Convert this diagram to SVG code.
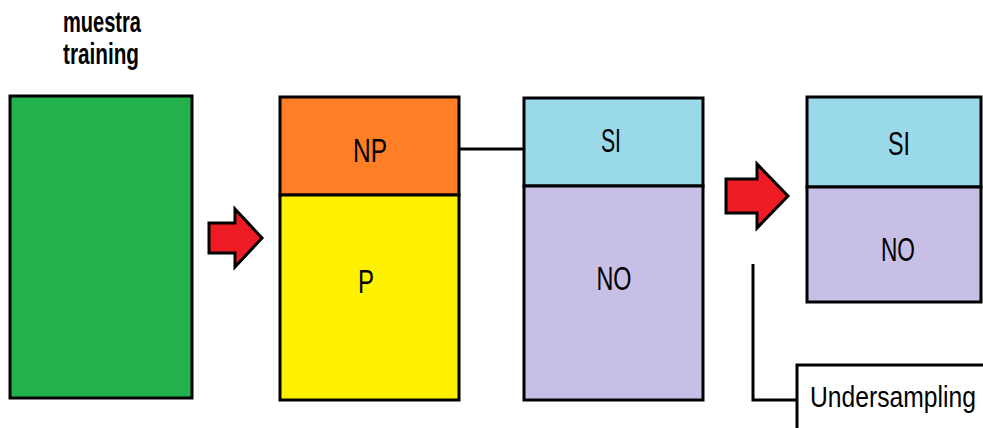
<svg xmlns="http://www.w3.org/2000/svg" width="983" height="428" viewBox="0 0 983 428">
<style>
.box{stroke:#000;stroke-width:3}
.lbl{font-family:"Liberation Sans",Arial,sans-serif;font-size:33px;fill:#000;text-anchor:middle}
.title{font-family:"Liberation Sans",Arial,sans-serif;font-size:29px;font-weight:bold;fill:#000}
.conn{fill:none;stroke:#000;stroke-width:3}
.arrow{fill:#ED1C24;stroke:#000;stroke-width:3;stroke-linejoin:miter}
</style>
<rect width="983" height="428" fill="#fff"/>
<g id="title">
<text class="title" x="63" y="32" textLength="78" lengthAdjust="spacingAndGlyphs">muestra</text>
<text class="title" x="63" y="64" textLength="76" lengthAdjust="spacingAndGlyphs">training</text>
</g>
<g id="connectors">
<line class="conn" x1="459" y1="149" x2="524" y2="149"/>
<polyline class="conn" points="753,264 753,400 797,400"/>
</g>
<g id="training">
<rect class="box" x="10" y="96" width="182" height="302" fill="#22B14C"/>
</g>
<g id="arrow1">
<polygon class="arrow" points="209,223 235,223 235,209 262,238 235,267 235,253 209,253"/>
</g>
<g id="np">
<rect class="box" x="280" y="97" width="179" height="98" fill="#FF7F27"/>
<text class="lbl" x="370" y="162" textLength="34" lengthAdjust="spacingAndGlyphs">NP</text>
</g>
<g id="p">
<rect class="box" x="280" y="195" width="179" height="205" fill="#FFF200"/>
<text class="lbl" x="366" y="293" textLength="16" lengthAdjust="spacingAndGlyphs">P</text>
</g>
<g id="si1">
<rect class="box" x="524" y="98" width="179" height="88" fill="#99D9EA"/>
<text class="lbl" x="611" y="152" textLength="20" lengthAdjust="spacingAndGlyphs">SI</text>
</g>
<g id="no1">
<rect class="box" x="524" y="186" width="179" height="214" fill="#C8BFE7"/>
<text class="lbl" x="614" y="290" textLength="35" lengthAdjust="spacingAndGlyphs">NO</text>
</g>
<g id="arrow2">
<polygon class="arrow" points="726,179 757,179 757,164 788,196 757,228 757,213 726,213"/>
</g>
<g id="si2">
<rect class="box" x="807" y="97" width="174" height="90" fill="#99D9EA"/>
<text class="lbl" x="899" y="155" textLength="22" lengthAdjust="spacingAndGlyphs">SI</text>
</g>
<g id="no2">
<rect class="box" x="807" y="187" width="174" height="115" fill="#C8BFE7"/>
<text class="lbl" x="898" y="261" textLength="34" lengthAdjust="spacingAndGlyphs">NO</text>
</g>
<g id="undersampling">
<rect class="box" x="797" y="365" width="210" height="90" fill="#fff"/>
<text x="810" y="407" font-family="'Liberation Sans',Arial,sans-serif" font-size="30" fill="#000" textLength="166" lengthAdjust="spacingAndGlyphs">Undersampling</text>
</g>
</svg>
